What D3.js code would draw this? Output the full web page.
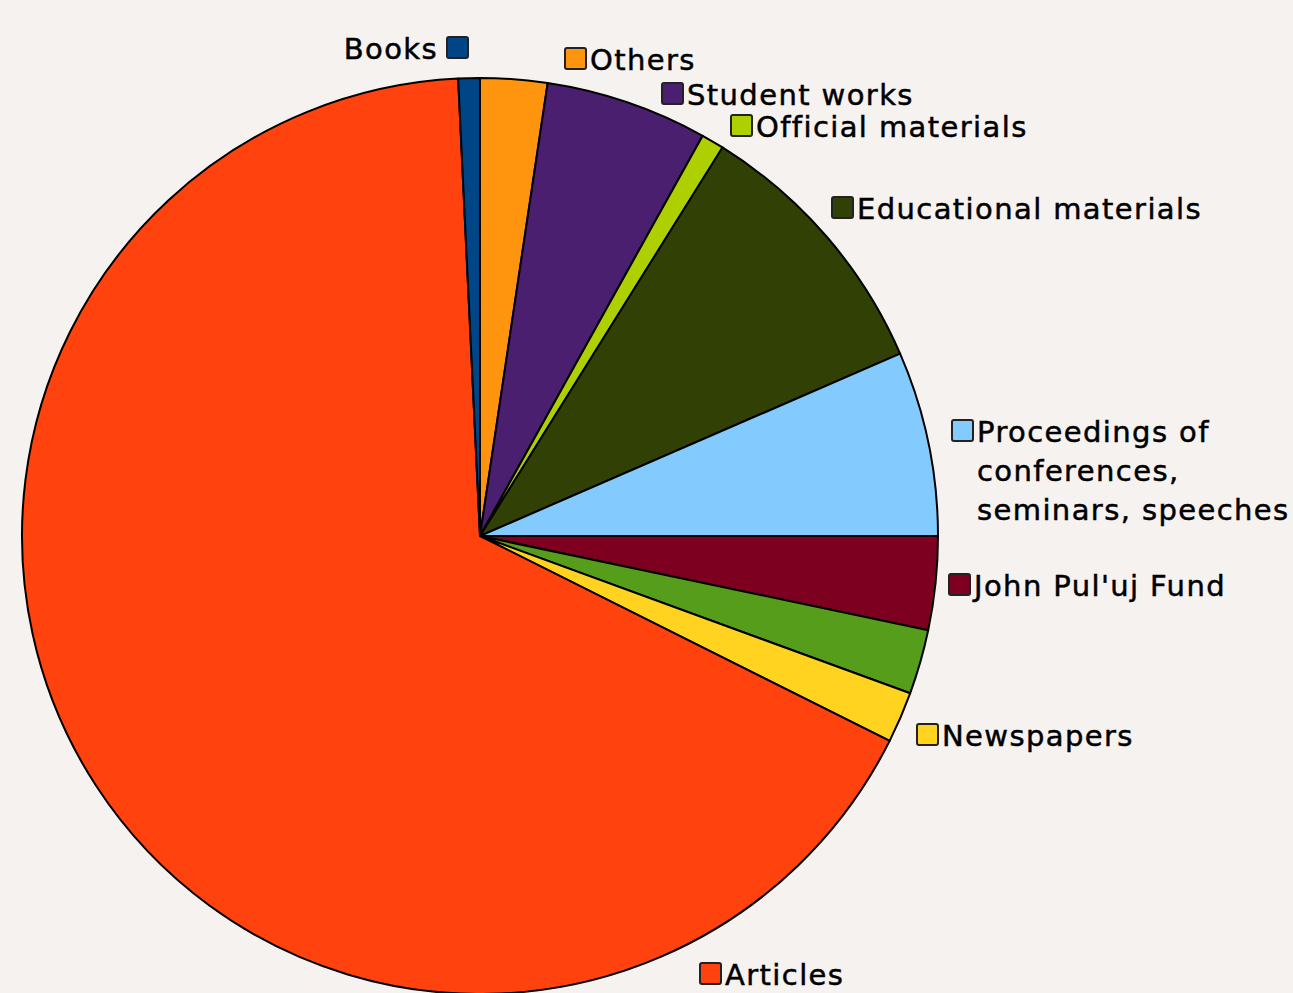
<!DOCTYPE html>
<html>
<head>
<meta charset="utf-8">
<script src="https://cdn.jsdelivr.net/npm/d3@7"></script>
<style>
  html, body { margin: 0; padding: 0; background: #f6f2f0; }
  svg { display: block; }
  .label { font-family: "DejaVu Sans", sans-serif; font-size: 29px; letter-spacing: 1.4px; fill: #000; stroke: #000; stroke-width: 0.5px; }
</style>
</head>
<body>
<svg></svg>
<script>
//Data (clockwise from 12 o'clock)
const categories = ["Others", "Student works", "Official materials", "Educational materials",
  "Proceedings of conferences, seminars, speeches", "John Pul'uj Fund", "", "Newspapers", "Articles", "Books"];
const values = [2.36, 5.72, 0.80, 9.60, 6.52, 3.30, 2.28, 1.80, 66.86, 0.76];
const colors = ["#ff950e", "#4b1f6f", "#aecf00", "#314004", "#83caff", "#7e0021", "#579d1c", "#ffd320", "#ff420e", "#004586"];
const labelLines = [["Others"], ["Student works"], ["Official materials"], ["Educational materials"],
  ["Proceedings of", "conferences,", "seminars, speeches"], ["John Pul'uj Fund"], [], ["Newspapers"], ["Articles"], ["Books"]];

//Label layout: legend square top-left, and whether the square sits after the text
const labelLayout = [
  {x: 565, y: 48}, {x: 662, y: 83}, {x: 731, y: 115}, {x: 832, y: 197},
  {x: 952, y: 420}, {x: 949, y: 574}, null, {x: 917, y: 724}, {x: 700, y: 963},
  {x: 447, y: 37, after: true}
];

function drawChart(){
  const w = 1293;
  const h = 993;
  const cx = 480;
  const cy = 536;
  const radius = 458;

  const chart = d3.select("svg")
    .attr("width", w)
    .attr("height", h);

  const pie = d3.pie().sort(null).value((d) => d);
  const arcs = pie(values);
  const arc = d3.arc().innerRadius(0).outerRadius(radius);

  chart.append("g")
    .attr("transform", "translate(" + cx + "," + cy + ")")
    .selectAll("path")
    .data(arcs)
    .enter()
    .append("path")
    .attr("d", arc)
    .attr("fill", (d, i) => colors[i])
    .attr("stroke", "#000")
    .attr("stroke-width", 2)
    .attr("stroke-linejoin", "round");

  //Labels
  const sq = 21;
  const lineH = 39;
  labelLayout.forEach((pos, i) => {
    if (!pos) return;
    const g = chart.append("g");
    g.append("rect")
      .attr("x", pos.x)
      .attr("y", pos.y)
      .attr("width", sq)
      .attr("height", sq)
      .attr("rx", 2)
      .attr("fill", colors[i])
      .attr("stroke", "#222")
      .attr("stroke-width", 2);
    const tx = pos.after ? pos.x - 9 : pos.x + sq + 4;
    const t = g.append("text")
      .classed("label", true)
      .attr("x", tx)
      .attr("y", pos.y + sq + 1)
      .attr("text-anchor", pos.after ? "end" : "start");
    labelLines[i].forEach((line, j) => {
      t.append("tspan")
        .attr("x", tx)
        .attr("dy", j === 0 ? 0 : lineH)
        .text(line);
    });
  });
}
drawChart();
</script>
</body>
</html>
